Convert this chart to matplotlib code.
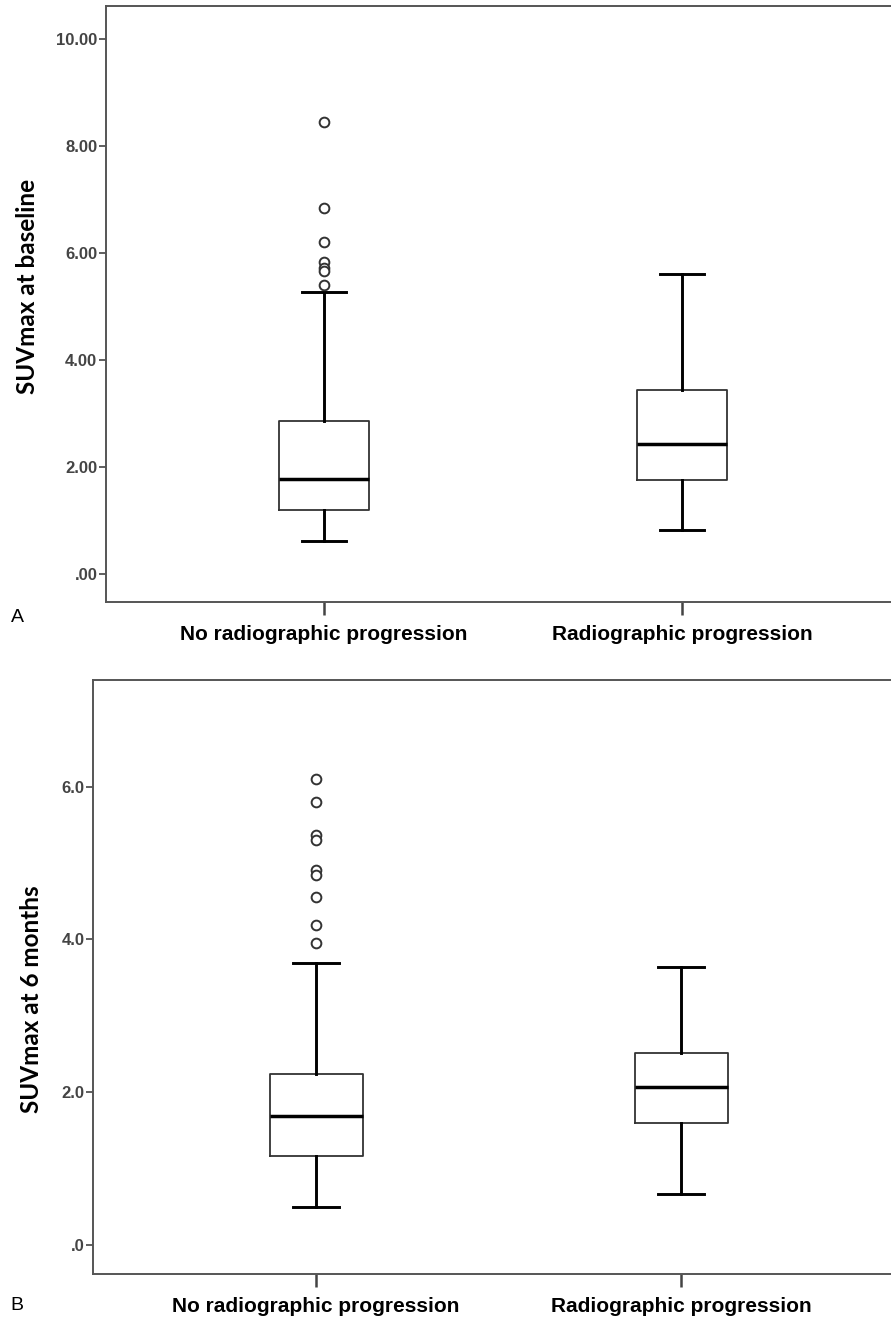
import matplotlib
matplotlib.use('Agg')
import matplotlib.pyplot as plt

categorias = ['No radiographic progression', 'Radiographic progression']

# painel A - SUVmax at baseline
a_mediana = [1.77, 2.42]
a_q1 = [1.20, 1.75]
a_q3 = [2.85, 3.43]
a_whis_baixo = [0.61, 0.81]
a_whis_alto = [5.26, 5.61]
a_outliers = [[8.44, 6.83, 6.20, 5.82, 5.71, 5.65, 5.40], []]
a_ticks = [0, 2, 4, 6, 8, 10]
a_ticklabels = ['.00', '2.00', '4.00', '6.00', '8.00', '10.00']

# painel B - SUVmax at 6 months
b_mediana = [1.69, 2.07]
b_q1 = [1.16, 1.59]
b_q3 = [2.24, 2.51]
b_whis_baixo = [0.49, 0.67]
b_whis_alto = [3.69, 3.64]
b_outliers = [[6.10, 5.80, 5.37, 5.30, 4.91, 4.84, 4.55, 4.19, 3.95], []]
b_ticks = [0, 2, 4, 6]
b_ticklabels = ['.0', '2.0', '4.0', '6.0']


def desenhar_painel(ax, mediana, q1, q3, baixo, alto, outliers, ticks, ticklabels,
                    titulo_y, ylim, xlim, largura):
    stats = []
    for i in range(len(categorias)):
        stats.append({'med': mediana[i], 'q1': q1[i], 'q3': q3[i],
                      'whislo': baixo[i], 'whishi': alto[i], 'fliers': outliers[i]})
    ax.bxp(stats, positions=[1, 2], widths=largura, capwidths=0.125,
           boxprops=dict(color='#333333', linewidth=1.3),
           whiskerprops=dict(color='black', linewidth=2.1),
           capprops=dict(color='black', linewidth=2.1),
           medianprops=dict(color='black', linewidth=2.5),
           flierprops=dict(marker='o', markerfacecolor='white', markeredgecolor='#333333',
                           markersize=7, markeredgewidth=1.4))
    ax.set_xlim(*xlim)
    ax.set_ylim(*ylim)
    ax.set_yticks(ticks)
    ax.set_yticklabels(ticklabels, fontsize=12, fontweight='bold', color='#444444')
    ax.set_xticks([1, 2])
    ax.set_xticklabels(categorias, fontsize=15, fontweight='bold')
    ax.tick_params(axis='y', direction='out', length=5, width=1.2, color='#444444', pad=1)
    ax.tick_params(axis='x', direction='out', length=9, width=1.8, color='#444444', pad=8)
    for lado in ['left', 'top', 'bottom']:
        ax.spines[lado].set_color('#555555')
        ax.spines[lado].set_linewidth(1.4)
    ax.spines['right'].set_visible(False)
    ax.set_ylabel(titulo_y, family=['Lato', 'DejaVu Sans'], fontweight='bold', fontsize=17.5)


plt.rcParams['font.family'] = ['Liberation Sans', 'DejaVu Sans']

fig = plt.figure(figsize=(8.91, 13.18), dpi=100)

ax_a = fig.add_axes([0.1186, 0.5435, 0.8814, 0.4516])
desenhar_painel(ax_a, a_mediana, a_q1, a_q3, a_whis_baixo, a_whis_alto, a_outliers,
                a_ticks, a_ticklabels, 'SUVmax at baseline', (-0.52, 10.6), (0.39, 2.584), 0.25)
ax_a.yaxis.set_label_coords(-0.085, 0.53)

ax_b = fig.add_axes([0.104, 0.0335, 0.896, 0.4508])
desenhar_painel(ax_b, b_mediana, b_q1, b_q3, b_whis_baixo, b_whis_alto, b_outliers,
                b_ticks, b_ticklabels, 'SUVmax at 6 months', (-0.38, 7.40), (0.388, 2.575), 0.255)
ax_b.yaxis.set_label_coords(-0.062, 0.463)

# letras dos paineis
fig.text(0.012, 0.528, 'A', fontsize=14)
fig.text(0.012, 0.006, 'B', fontsize=14)

fig.savefig('out.png', dpi=100)
plt.close()
